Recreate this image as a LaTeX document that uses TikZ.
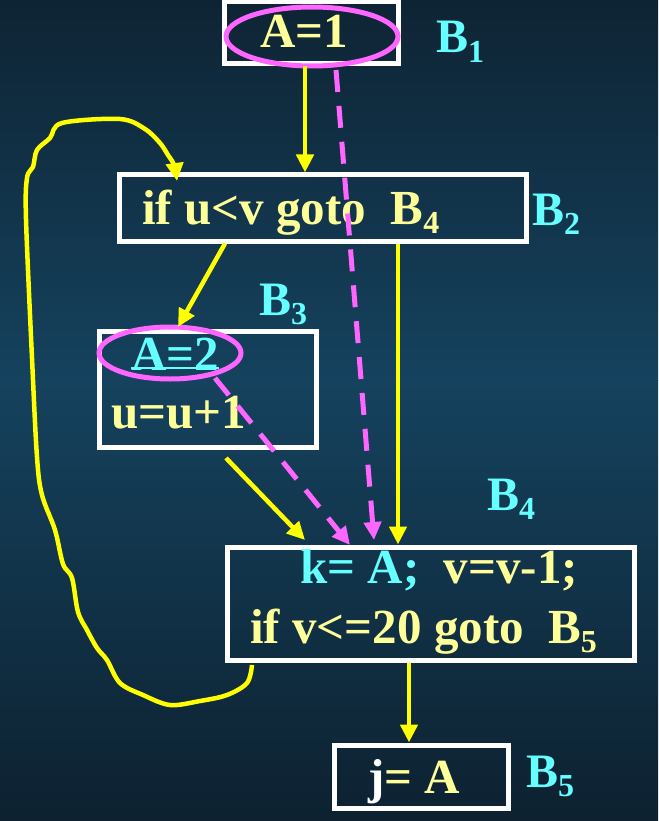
\documentclass[tikz,border=0pt]{standalone}
\usepackage{fontspec}
\setmainfont{Liberation Serif}
\usetikzlibrary{arrows.meta,shapes.geometric}
\definecolor{bgtop}{RGB}{14,36,52}
\definecolor{bgmid}{RGB}{21,66,94}
\definecolor{bgbot}{RGB}{13,33,48}
\definecolor{ltyellow}{RGB}{255,255,153}
\definecolor{cyanlbl}{RGB}{102,255,255}
\definecolor{pinkln}{RGB}{255,102,255}
\definecolor{arrowyellow}{RGB}{255,255,0}
\newcommand\subd[1]{\raisebox{-0.2em}{\fontsize{32}{32}\selectfont #1}}
\tikzset{
  blockbox/.style={draw=white, line width=5pt, rectangle, inner sep=0pt},
  ring/.style={draw=pinkln, line width=5pt, ellipse, inner sep=0pt},
  codetext/.style={anchor=base west, inner sep=0pt, font=\fontsize{49}{52}\selectfont\bfseries, text=ltyellow},
  blklabel/.style={anchor=base west, inner sep=0pt, font=\fontsize{48}{50}\selectfont\bfseries, text=cyanlbl},
  flow/.style={draw=arrowyellow, line width=4.5pt, -{Triangle[length=18pt,width=17pt]}},
  defuse/.style={draw=pinkln, line width=5pt, dash pattern=on 22pt off 14pt, -{Triangle[length=18pt,width=17pt]}},
}
\begin{document}
\begin{tikzpicture}[x=1pt,y=-1pt]
\shade[top color=bgtop, bottom color=bgmid] (0,0) rectangle (658,380);
\shade[top color=bgmid, bottom color=bgbot] (0,380) rectangle (658,821);
\useasboundingbox (0,0) rectangle (658,821);

% blocks
\node[blockbox, minimum width=174pt, minimum height=62pt] (b1) at (311,33) {};
\node[blockbox, minimum width=407pt, minimum height=66pt] (b2) at (322.5,208) {};
\node[blockbox, minimum width=217pt, minimum height=116pt] (b3) at (207.5,389) {};
\node[blockbox, minimum width=407pt, minimum height=113pt] (b4) at (430.5,603.5) {};
\node[blockbox, minimum width=174pt, minimum height=63pt] (b5) at (421,776.5) {};

% texts
\node[codetext] (t1) at (260,48) {A=1};
\node[codetext] (t2) at (142,224) {if u<v goto \ B\subd{4}};
\node[codetext, text=cyanlbl] (t3) at (131,370) {A=2};
\draw[cyanlbl, line width=2pt] ([yshift=2pt]t3.base west) -- ([yshift=2pt]t3.base east);
\node[codetext] (t4) at (111,428) {u=u+1};
\node[codetext] (t5) at (300,583) {{\color{cyanlbl}k= A;} \ v=v-1;};
\node[codetext] (t6) at (250,643) {if v<=20 goto \ B\subd{5}};
\node[codetext] (t7) at (368,793) {{\color{white}j}= A};

% block labels
\node[blklabel] (l1) at (436,53) {B\subd{1}};
\node[blklabel] (l2) at (532,225) {B\subd{2}};
\node[blklabel] (l3) at (259,315) {B\subd{3}};
\node[blklabel] (l4) at (487,510) {B\subd{4}};
\node[blklabel] (l5) at (526,787) {B\subd{5}};

% ellipses
\node[ring, minimum width=172pt, minimum height=59pt] (e1) at (312,36.5) {};
\node[ring, minimum width=142pt, minimum height=52pt] (e2) at (170,353) {};

% control flow
\draw[flow] (b1.south -| 305,0) -- (b2.north -| 305,0);
\draw[flow] (b2.south -| 225,0) -- (178,327);
\draw[flow] (226,458) -- (305,540);
\draw[flow] (b2.south -| 398,0) -- (b4.north -| 398,0);
\draw[flow] (b4.south -| 409,0) -- (b5.north -| 409,0);

\coordinate (loopstart) at (252,665);
\coordinate (loopend) at (177,181);
\draw[flow, line join=round] plot[smooth, tension=0.55] coordinates {
 (loopstart) (247,683) (227,695) (200,701) (170,705) (143,695) (120,683)
 (107,660) (97,648) (87,630) (78,612) (72,578) (63,564) (55,530) (42,495)
 (37,457) (32,358) (26,219) (27,178) (33,167) (37,150) (50,138) (62,123)
 (120,119) (145,129) (160,143) (168,155) (174,165) (loopend)};

% definition-use (dashed)
\coordinate (d1s) at (336,70);
\coordinate (d1e) at (374,540);
\draw[defuse] (d1s) -- (d1e);
\coordinate (d2s) at (215,378);
\coordinate (d2e) at (350,545);
\draw[defuse] (d2s) -- (d2e);
\end{tikzpicture}
\end{document}
